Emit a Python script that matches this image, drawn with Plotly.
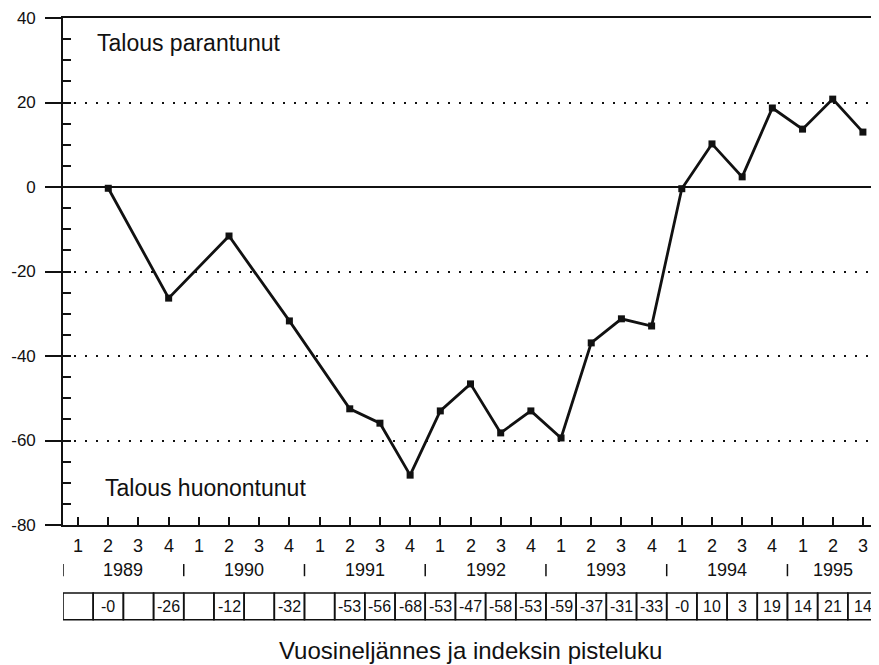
import plotly.graph_objects as go

years = ["1989", "1990", "1991", "1992", "1993", "1994", "1995"]
quarter_labels = ["1", "2", "3", "4"] * 6 + ["1", "2", "3"]
# index values plotted (None = no survey that quarter)
index_values = [None, -0.3, None, -26.3, None, -11.6, None, -31.7,
                None, -52.5, -55.9, -68.2, -53.0, -46.6, -58.2, -53.0,
                -59.4, -36.9, -31.2, -32.9, -0.4, 10.2, 2.4, 18.7,
                13.7, 20.8, 13.0]
table_labels = ["", "-0", "", "-26", "", "-12", "", "-32",
                "", "-53", "-56", "-68", "-53", "-47", "-58", "-53",
                "-59", "-37", "-31", "-33", "-0", "10", "3", "19",
                "14", "21", "14"]
y_ticks = [40, 20, 0, -20, -40, -60, -80]
y_ticktext = ["40", "20", "0", "-20", "-40", "-60", "-80"]

n = len(quarter_labels)
xs = list(range(n))
FONT = "Liberation Sans, Arial, Helvetica, sans-serif"
BLACK = "#111111"

fig = go.Figure()
fig.add_trace(go.Scatter(
    x=xs, y=index_values, mode="lines+markers", connectgaps=True,
    line=dict(color=BLACK, width=2.8),
    marker=dict(symbol="square", size=7, color=BLACK),
    showlegend=False, hoverinfo="skip"))
# invisible trace for the secondary (inner tick) y-axis
fig.add_trace(go.Scatter(x=[0], y=[0], yaxis="y2", mode="markers",
                         marker=dict(opacity=0), showlegend=False, hoverinfo="skip"))

annotations = []
shapes = []
# quarter labels
for i, q in enumerate(quarter_labels):
    annotations.append(dict(x=i, y=-0.042, xref="x", yref="paper", text=q,
                            showarrow=False, yanchor="middle",
                            font=dict(size=18, family=FONT, color=BLACK)))
# year labels and separators
for k, yr in enumerate(years):
    center = 4 * k + 1.5 if k < 6 else 25
    annotations.append(dict(x=center, y=-0.089, xref="x", yref="paper", text=yr,
                            showarrow=False, yanchor="middle",
                            font=dict(size=18, family=FONT, color=BLACK)))
for k in range(8):
    sep = 4 * k - 0.5 if k < 7 else n - 0.6
    shapes.append(dict(type="line", xref="x", yref="paper", x0=sep, x1=sep,
                       y0=-0.077, y1=-0.101, line=dict(color=BLACK, width=1.5)))
# table values
for i, t in enumerate(table_labels):
    shapes.append(dict(type="rect", xref="x", yref="paper", x0=i - 0.5, x1=i + 0.5,
                       y0=-0.187, y1=-0.134, line=dict(color=BLACK, width=1.6)))
    if t:
        annotations.append(dict(x=i, y=-0.161, xref="x", yref="paper", text=t,
                                showarrow=False, yanchor="middle",
                                font=dict(size=16, family=FONT, color=BLACK)))

annotations += [
    dict(x=0.039, y=0.951, xref="paper", yref="paper", text="Talous parantunut",
         showarrow=False, xanchor="left", yanchor="middle",
         font=dict(size=23, family=FONT, color=BLACK)),
    dict(x=0.049, y=0.073, xref="paper", yref="paper", text="Talous huonontunut",
         showarrow=False, xanchor="left", yanchor="middle",
         font=dict(size=23, family=FONT, color=BLACK)),
    dict(x=(470 - 63) / 815, y=-0.247, xref="paper", yref="paper",
         text="Vuosineljännes ja indeksin pisteluku",
         showarrow=False, yanchor="middle",
         font=dict(size=24, family=FONT, color=BLACK)),
]

# page body has an 8px margin; size/margins compensate for it
fig.update_layout(
    width=871, height=657,
    margin=dict(l=55, r=1, t=10, b=140, autoexpand=False),
    paper_bgcolor="white", plot_bgcolor="white",
    font=dict(family=FONT, size=16, color=BLACK),
    xaxis=dict(range=[-0.5, n - 0.5], showticklabels=False, showgrid=False,
               zeroline=False, ticks="inside", tickvals=xs, ticklen=8, tickwidth=1.6,
               tickcolor=BLACK, showline=True, linecolor=BLACK, linewidth=1.6,
               mirror=True),
    yaxis=dict(range=[-80, 40], tickvals=y_ticks, ticktext=y_ticktext,
               ticks="outside", ticklen=16, ticklabelstandoff=6,
               tickwidth=1.6, tickcolor=BLACK, showline=True, linecolor=BLACK,
               linewidth=1.6, mirror=True, showgrid=True, gridcolor=BLACK,
               gridwidth=1.6, griddash="2px,9px", zeroline=True, zerolinecolor=BLACK,
               zerolinewidth=1.6, tickfont=dict(size=17, family=FONT, color=BLACK)),
    yaxis2=dict(range=[-80, 40], overlaying="y", side="left", dtick=5, tick0=0,
                ticks="inside", ticklen=8, tickwidth=1.6, tickcolor=BLACK,
                showticklabels=False, showgrid=False, zeroline=False, showline=False),
    annotations=annotations, shapes=shapes,
)

fig.write_html("out.html")
